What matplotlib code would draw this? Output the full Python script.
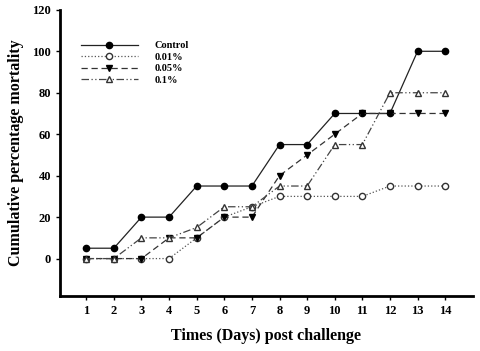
import matplotlib.pyplot as plt

days = list(range(1, 15))
control = [5, 5, 20, 20, 35, 35, 35, 55, 55, 70, 70, 70, 100, 100]
p001 = [0, 0, 0, 0, 10, 20, 25, 30, 30, 30, 30, 35, 35, 35]
p005 = [0, 0, 0, 10, 10, 20, 20, 40, 50, 60, 70, 70, 70, 70]
p01 = [0, 0, 10, 10, 15, 25, 25, 35, 35, 55, 55, 80, 80, 80]
yticks = [0, 20, 40, 60, 80, 100, 120]

plt.rcParams["font.family"] = ["Liberation Serif", "DejaVu Serif"]
plt.rcParams["font.weight"] = "bold"

fig = plt.figure(figsize=(4.8, 3.51), dpi=100)
ax = fig.add_axes([0.125, 0.157, 0.86, 0.815])

ax.plot(days, control, "-", color="#222222", lw=0.9, marker="o", ms=4.5,
        mfc="black", mec="black", label="Control")
ax.plot(days, p001, ":", color="#555555", lw=0.9, marker="o", ms=4.5,
        mfc="white", mec="#333333", label="0.01%")
ax.plot(days, p005, "--", color="#333333", lw=0.9, marker="v", ms=5,
        mfc="black", mec="black", dashes=(5, 3), label="0.05%")
ax.plot(days, p01, color="#444444", lw=0.9, marker="^", ms=5,
        mfc="white", mec="#333333", dashes=(6, 2, 1, 2, 1, 2), label="0.1%")

ax.set_xlim(0.05, 15)
ax.set_ylim(-18, 120)
ax.set_xticks(days)
ax.set_yticks(yticks)
ax.tick_params(labelsize=9, width=1, length=3, direction="out")
ax.spines["top"].set_visible(False)
ax.spines["right"].set_visible(False)
ax.spines["left"].set_linewidth(2)
ax.spines["bottom"].set_linewidth(2)

ax.set_xlabel("Times (Days) post challenge", fontsize=11.5, fontweight="bold", labelpad=8)
ax.set_ylabel("Cumulative percentage mortality", fontsize=11.5, fontweight="bold", labelpad=6)

leg = ax.legend(loc="upper left", bbox_to_anchor=(0.04, 0.905), frameon=False,
                fontsize=7.5, handlelength=5.5, labelspacing=0.2, handletextpad=1.6,
                borderaxespad=0)

plt.savefig("out.png", dpi=100)
